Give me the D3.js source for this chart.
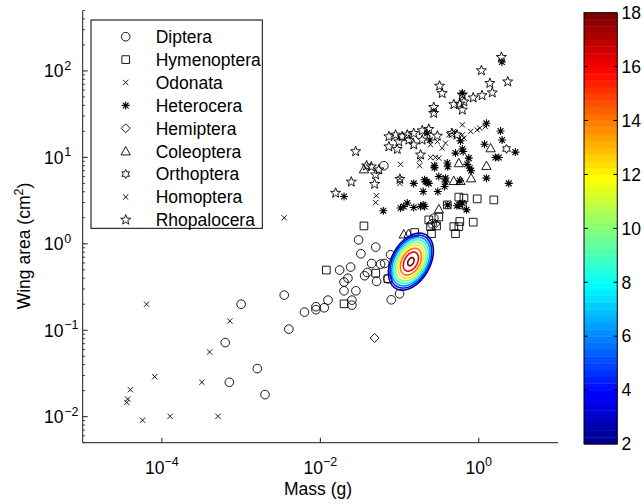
<!DOCTYPE html>
<html><head><meta charset="utf-8">
<script src="https://cdn.jsdelivr.net/npm/d3@7"></script>
<style>body{margin:0;background:#fff}svg{display:block}text{font-family:"Liberation Sans",Arial,sans-serif;fill:#000}</style>
</head><body><svg id="c" width="644" height="504"></svg>
<script>
// ---- data (mass in g, wing area in cm^2) ----
const dipteraMass=[1.0e-3,6.3e-4,7.1e-4,1.6e-3,2.0e-3,3.5e-3,4.0e-3,6.3e-3,8.8e-3,8.8e-3,0.0112,0.0125,0.0175,0.0199,0.0199,0.0223,0.0241,0.025,0.025,0.0281,0.0304,0.0325,0.050,0.0444,0.0576,0.0647,0.077,0.0391,0.0362,0.0513,0.0712,0.0786,0.100,0.0634,0.271,0.258];
const dipteraArea=[0.20,0.072,0.025,0.036,0.018,0.255,0.103,0.162,0.173,0.187,0.182,0.223,0.497,0.361,0.286,0.40,0.538,0.223,0.195,0.286,1.11,0.766,0.916,0.592,0.582,0.592,0.746,0.466,0.427,0.367,0.394,0.225,0.264,8.0,1.98,1.70];
const hymenopteraMass=[0.0119,0.0199,0.0355,0.050,0.0712,0.155,0.253,0.234,0.246,0.313,0.40,0.56,0.65,0.62,0.955,1.55,0.576,0.56,0.484,0.508,0.85,0.293];
const hymenopteraArea=[0.497,0.202,1.61,0.458,0.394,1.35,1.31,1.89,1.58,2.04,2.82,3.47,3.38,2.82,3.31,3.22,1.81,1.58,1.58,1.31,1.78,1.61];
const odonataMass=[0.0035,0.051,0.050,0.103,0.101,0.101,0.179,0.179,0.246,0.30,0.345,0.38,0.246,0.284,0.313,0.27,0.62,0.79,0.955,1.03,1.21,0.42,0.48,0.62,0.65,0.27,1.25];
const odonataArea=[2.0,3.6,3.0,8.3,5.7,5.0,9.4,8.0,14,15.2,12.8,14.6,10,10,9.8,8.2,23.8,19.9,20.8,21.8,22.7,18.2,19.9,18.2,16.7,34.5,24.4];
const heteroceraMass=[1.88,1.97,1.18,2.90,1.62,1.79,0.588,0.62,0.635,0.508,0.748,0.40,0.406,0.276,0.276,0.714,0.77,0.80,0.313,0.38,0.38,0.37,1.25,2.39,0.576,0.207,0.223,0.304,0.199,0.406,0.576,0.62,0.70,0.199,0.223,0.241,0.0199,0.0623,0.151,0.103,0.113,0.125,0.151,0.184,0.207,0.213,0.234,1.25,0.53,0.62,1.96];
const heteroceraArea=[20.2,15.9,14.2,11.5,9.95,9.95,15.5,12.5,11.7,11.2,9.8,8.6,7.8,8.0,7.6,8.3,7.5,7.0,6.0,5.75,5.2,4.6,5.75,5.0,5.35,5.5,5.2,4.03,4.03,2.82,2.82,2.96,2.47,2.82,19,15.9,3.52,2.41,5.0,2.59,2.70,2.96,2.63,2.70,2.70,5.25,5.0,24.8,2.75,55,127];
const hemipteraMass=[0.0484,0.284];
const hemipteraArea=[0.0813,1.70];
const coleopteraMass=[0.0355,0.56,0.484,0.588,0.80,1.41,1.25,0.313,0.113,0.130];
const coleopteraArea=[7.3,8.6,5.35,5.35,5.75,12.8,8.0,2.52,1.29,1.31];
const orthopteraMass=[2.24];
const orthopteraArea=[12.5];
const homopteraMass=[6.4e-5,7.2e-4,4.0e-4,8.1e-5,3.2e-4,4.0e-5,3.7e-5,3.6e-5,5.7e-5,1.27e-4,5.1e-4];
const homopteraArea=[0.20,0.128,0.056,0.029,0.025,0.0205,0.016,0.0146,0.0091,0.0101,0.0101];
const rhopaloceraMass=[1.93,1.08,1.38,2.32,1.48,1.10,0.85,0.32,0.345,0.62,0.65,0.484,0.576,0.62,0.27,0.27,0.0733,0.089,0.108,0.125,0.151,0.193,0.234,0.30,0.098,0.131,0.151,0.193,0.46,0.53,0.0733,0.0935,0.0279,0.184,0.0384,0.044,0.0548,0.0498,0.0484,0.0246,0.0156,0.101];
const rhopaloceraArea=[144,101,72,75,56,52,49,67,55,53,44,41,41.6,35.4,38,32.4,17.4,18.2,17.4,18.2,19,20.4,21.2,17.7,15.2,15.9,14,15.9,19,18.2,13.3,12.4,11.7,10.7,8.0,7.8,7.2,6.3,4.9,5.2,3.86,5.6];

const legendNames=["Diptera","Hymenoptera","Odonata","Heterocera","Hemiptera","Coleoptera","Orthoptera","Homoptera","Rhopalocera"];
const legendMarkers=["circle","square","x","asterisk","diamond","triangle","hexagram","x","pentagram"];

// density contour surface (fitted model parameters)
const contourCenter=[0.139,0.622];   // mass (g), area (cm^2)
const contourLogSD=[0.1343,0.1559];  // decades
const contourCorr=[0.38];
const contourPeak=[18.6];
const contourRadius=[2.26];
const contourShape=[1.7];
const contourLevels=[2,4,6,8,10,12,14,16,18];
const colorbarTicks=[2,4,6,8,10,12,14,16,18];
const xTickExps=[-4,-2,0];
const yTickExps=[-2,-1,0,1,2];

// ---- chart ----
const svg=d3.select("#c");
const x=d3.scaleLog().domain([1e-5,10]).range([82.7,558]);
const y=d3.scaleLog().domain([0.005,500]).range([442.7,10.5]);
const FS=17.5, SUP=12.5;

function jet(m){
  const n=Math.ceil(m/4);
  const u=[];for(let i=1;i<=n;i++)u.push(i/n);for(let i=1;i<n;i++)u.push(1);for(let i=n;i>=1;i--)u.push(i/n);
  const J=Array.from({length:m},()=>[0,0,0]);
  const g0=Math.ceil(n/2)-(m%4===1?1:0);
  for(let k=0;k<u.length;k++){
    const g=g0+k, r=g+n, b=g-n;
    if(r>=0&&r<m)J[r][0]=u[k]; if(g>=0&&g<m)J[g][1]=u[k]; if(b>=0&&b<m)J[b][2]=u[k];
  }
  return J.map(c=>d3.rgb(c[0]*255,c[1]*255,c[2]*255).formatHex());
}
const cmap=jet(64);
const cmin=2,cmax=18;
const levelColor=v=>cmap[Math.min(63,Math.max(0,Math.floor((v-cmin)/(cmax-cmin)*64)))];

function markerPath(type,s){
  const p=d3.path();
  if(type==="circle"){p.arc(0,0,s*0.54,0,2*Math.PI);}
  else if(type==="square"){const h=s*0.48;p.rect(-h,-h,2*h,2*h);}
  else if(type==="x"){const h=s*0.33;p.moveTo(-h,-h);p.lineTo(h,h);p.moveTo(-h,h);p.lineTo(h,-h);}
  else if(type==="asterisk"){const h=s*0.5,d=h*0.72;p.moveTo(-h,0);p.lineTo(h,0);p.moveTo(0,-h);p.lineTo(0,h);p.moveTo(-d,-d);p.lineTo(d,d);p.moveTo(-d,d);p.lineTo(d,-d);}
  else if(type==="diamond"){const h=s*0.56;p.moveTo(0,-h);p.lineTo(h,0);p.lineTo(0,h);p.lineTo(-h,0);p.closePath();}
  else if(type==="triangle"){const h=s*0.58;p.moveTo(0,-h);p.lineTo(h,h*0.8);p.lineTo(-h,h*0.8);p.closePath();}
  else if(type==="pentagram"||type==="hexagram"){
    const k=type==="pentagram"?5:6, R=type==="pentagram"?s*0.66:s*0.56, r=R*(type==="pentagram"?0.42:0.55);
    for(let i=0;i<2*k;i++){const a=-Math.PI/2+i*Math.PI/k, rr=i%2?r:R;const px=rr*Math.cos(a),py=rr*Math.sin(a);i?p.lineTo(px,py):p.moveTo(px,py);}
    p.closePath();
  }
  return p.toString();
}
const MS=8;
const series=[
  [dipteraMass,dipteraArea,"circle"],[hymenopteraMass,hymenopteraArea,"square"],[odonataMass,odonataArea,"x"],
  [heteroceraMass,heteroceraArea,"asterisk"],[hemipteraMass,hemipteraArea,"diamond"],[coleopteraMass,coleopteraArea,"triangle"],
  [orthopteraMass,orthopteraArea,"hexagram"],[homopteraMass,homopteraArea,"x"],[rhopaloceraMass,rhopaloceraArea,"pentagram"]];
const gPts=svg.append("g");
series.forEach(([mx,ay,t])=>{
  gPts.selectAll(null).data(mx.map((m,i)=>[m,ay[i]])).enter().append("path")
    .attr("d",markerPath(t,MS)).attr("transform",d=>`translate(${x(d[0])},${y(d[1])})`)
    .attr("fill","none").attr("stroke","#000").attr("stroke-width",t==="asterisk"?1.1:0.9);
});

// contours
const nx=240,ny=240, lx0=-1.6,lx1=-0.1, ly0=-1.0,ly1=0.6;
const dlx=(lx1-lx0)/(nx-1), dly=(ly1-ly0)/(ny-1);
const mx0=Math.log10(contourCenter[0]), my0=Math.log10(contourCenter[1]);
const rho=contourCorr[0];
const vals=new Array(nx*ny);
for(let j=0;j<ny;j++)for(let i=0;i<nx;i++){
  const zx=(lx0+i*dlx-mx0)/contourLogSD[0], zy=(ly0+j*dly-my0)/contourLogSD[1];
  const d=Math.sqrt((zx*zx-2*rho*zx*zy+zy*zy)/(1-rho*rho));
  vals[j*nx+i]=contourPeak[0]*Math.max(0,1-Math.pow(d/contourRadius[0],contourShape[0]));
}
const conts=d3.contours().size([nx,ny]).thresholds(contourLevels)(vals);
const proj=d3.geoTransform({point(px,py){this.stream.point(x(Math.pow(10,lx0+(px-0.5)*dlx)),y(Math.pow(10,ly0+(py-0.5)*dly)));}});
svg.append("g").selectAll("path").data(conts).enter().append("path")
  .attr("d",d3.geoPath(proj)).attr("fill","none").attr("stroke",d=>levelColor(d.value)).attr("stroke-width",1.6);

// axes
const ax=svg.append("g").attr("stroke","#1a1a1a").attr("stroke-width",1).attr("fill","none");
ax.append("line").attr("x1",x.range()[0]).attr("x2",x.range()[1]).attr("y1",442.7).attr("y2",442.7);
ax.append("line").attr("x1",82.7).attr("x2",82.7).attr("y1",y.range()[0]).attr("y2",y.range()[1]);
xTickExps.forEach(e=>{const px=x(Math.pow(10,e));ax.append("line").attr("x1",px).attr("x2",px).attr("y1",442.7).attr("y2",437.7);
  const t=svg.append("text").attr("x",px).attr("y",474).attr("text-anchor","middle").attr("font-size",FS);
  t.append("tspan").text("10");t.append("tspan").attr("dy",-8).attr("font-size",SUP).text(e<0?"\u2212"+(-e):String(e));});
yTickExps.forEach(e=>{const py=y(Math.pow(10,e));ax.append("line").attr("x1",82.7).attr("x2",87.7).attr("y1",py).attr("y2",py);
  svg.append("text").attr("x",63.5).attr("y",py+6.3).attr("text-anchor","end").attr("font-size",FS).text("10");
  svg.append("text").attr("x",64.2).attr("y",py-1).attr("font-size",SUP).text(e<0?"\u2212"+(-e):String(e));});
for(let e=-3;e<=2;e++)for(let k=2;k<=9;k++){const v=k*Math.pow(10,e);if(v<0.005||v>500)continue;const py=y(v);
  ax.append("line").attr("x1",82.7).attr("x2",85.2).attr("y1",py).attr("y2",py).attr("stroke-width",0.8);}
svg.append("text").attr("x",318).attr("y",495).attr("text-anchor","middle").attr("font-size",FS).text("Mass (g)");
const yl=svg.append("text").attr("transform","translate(30,246) rotate(-90)").attr("text-anchor","middle").attr("font-size",FS);
yl.append("tspan").text("Wing area (cm");yl.append("tspan").attr("dy",-7).attr("font-size",SUP).text("2");yl.append("tspan").attr("dy",7).text(")");

// legend
const lg=svg.append("g");
lg.append("rect").attr("x",91).attr("y",20).attr("width",171.3).attr("height",208.3).attr("fill","#fff").attr("stroke","#000").attr("stroke-width",1);
legendNames.forEach((nm,i)=>{const cy=36.7+i*22.9;
  lg.append("path").attr("d",markerPath(legendMarkers[i],MS)).attr("transform",`translate(125.7,${cy})`).attr("fill","none").attr("stroke","#000").attr("stroke-width",legendMarkers[i]==="asterisk"?1.1:0.9);
  lg.append("text").attr("x",155.7).attr("y",cy+6.3).attr("font-size",FS).text(nm);});

// colorbar
const cb=d3.scaleLinear().domain([cmin,cmax]).range([444,12.7]);
const cbx=584,cbw=33.3;
const bands=d3.range(64);
svg.append("g").selectAll("rect").data(bands).enter().append("rect")
  .attr("x",cbx).attr("width",cbw).attr("y",i=>cb(cmin+(i+1)*(cmax-cmin)/64)).attr("height",i=>cb(cmin+i*(cmax-cmin)/64)-cb(cmin+(i+1)*(cmax-cmin)/64)+0.4)
  .attr("fill",i=>cmap[i]);
svg.append("rect").attr("x",cbx).attr("y",cb(cmax)).attr("width",cbw).attr("height",cb(cmin)-cb(cmax)).attr("fill","none").attr("stroke","#000").attr("stroke-width",1);
colorbarTicks.forEach(v=>{const py=cb(v);
  if(v>cmin&&v<cmax){svg.append("line").attr("x1",cbx).attr("x2",cbx+4).attr("y1",py).attr("y2",py).attr("stroke","#000");
  svg.append("line").attr("x1",cbx+cbw-4).attr("x2",cbx+cbw).attr("y1",py).attr("y2",py).attr("stroke","#000");}
  svg.append("text").attr("x",621.5).attr("y",py+6.3).attr("font-size",FS).text(v);});
</script></body></html>
